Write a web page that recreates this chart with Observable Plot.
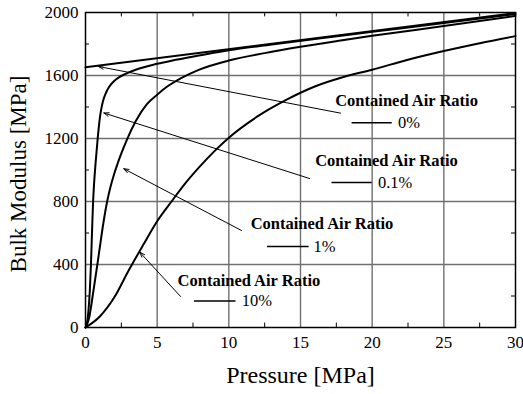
<!DOCTYPE html>
<html>
<head>
<meta charset="utf-8">
<script src="https://cdn.jsdelivr.net/npm/d3@7"></script>
<script src="https://cdn.jsdelivr.net/npm/@observablehq/plot@0.6"></script>
<style>
  html, body { margin: 0; padding: 0; background: white; }
  #chart svg, #chart svg text { font-family: 'Liberation Serif', 'Times New Roman', serif !important; }
</style>
</head>
<body>
<div id="chart"></div>
<script>
// ---- Data ----
const xTicks = [0, 5, 10, 15, 20, 25, 30];
const yTicks = [0, 400, 800, 1200, 1600, 2000];
const xMinor = [2.5, 7.5, 12.5, 17.5, 22.5, 27.5];
const yMinor = [200, 600, 1000, 1400, 1800];

// Contained air ratio 0%
const pressure0 = [0, 30];
const bulk0 = [1652, 1996];

// Contained air ratio 0.1%
const pressure01 = [0, 0.1, 0.2, 0.3, 0.38, 0.46, 0.53, 0.6, 0.7, 0.85, 1.0, 1.1, 1.2, 1.4, 1.6, 1.79, 2.0, 2.33, 2.79, 3.6, 5, 6, 8, 10, 13, 16, 20, 25, 30];
const bulk01 = [0, 25, 100, 230, 400, 620, 800, 915, 1040, 1200, 1330, 1388, 1430, 1484, 1520, 1545, 1565, 1588, 1610, 1640, 1674, 1694, 1728, 1760, 1797, 1832, 1877, 1933, 1990];

// Contained air ratio 1%
const pressure1 = [0, 0.25, 0.5, 0.86, 1.0, 1.25, 1.51, 1.75, 2.0, 2.2, 2.5, 2.9, 3.5, 4.3, 5.0, 5.7, 6.6, 7.9, 10, 12.5, 15, 17.8, 20, 25, 30];
const bulk1 = [0, 60, 200, 420, 510, 665, 800, 895, 975, 1030, 1105, 1195, 1310, 1420, 1478, 1530, 1580, 1636, 1695, 1742, 1782, 1822, 1852, 1914, 1978];

// Contained air ratio 10%
const pressure10 = [0, 1, 2, 3, 4, 5, 6, 7, 8, 9, 10, 12, 14, 16, 18, 20, 22.5, 25, 27.5, 30];
const bulk10 = [0, 70, 190, 360, 520, 675, 800, 920, 1025, 1120, 1205, 1340, 1445, 1530, 1590, 1637, 1700, 1755, 1805, 1850];

// Annotations
const ratios = ["0%", "0.1%", "1%", "10%"];
const annotationTitle = "Contained Air Ratio";
const titleP = [22.4, 21.0, 16.5, 11.4];
const titleK = [1443, 1062, 662, 300];
const keyP1 = [18.6, 17.2, 12.7, 7.6];
const keyP2 = [21.4, 20.0, 15.6, 10.5];
const keyK = [1300, 920, 515, 168];
const keyTextP = [21.8, 20.4, 15.9, 10.9];
const arrowFromP = [17.79, 15.63, 10.88, 6.63];
const arrowFromK = [1361, 946, 616, 197];
const arrowToP = [0.91, 1.28, 2.67, 3.79];
const arrowToK = [1657, 1362, 1008, 478];

const xTitle = "Pressure [MPa]";
const yTitle = "Bulk Modulus [MPa]";

// ---- Build tables ----
const toRows = (ps, ks) => ps.map((p, i) => ({p, k: ks[i]}));
const curves = [
  toRows(pressure0, bulk0),
  toRows(pressure01, bulk01),
  toRows(pressure1, bulk1),
  toRows(pressure10, bulk10)
];
const notes = ratios.map((r, i) => ({
  ratio: r,
  tp: titleP[i], tk: titleK[i],
  k1: keyP1[i], k2: keyP2[i], kk: keyK[i], kt: keyTextP[i],
  ax1: arrowFromP[i], ay1: arrowFromK[i], ax2: arrowToP[i], ay2: arrowToK[i]
}));

const serif = "'Liberation Serif', 'Times New Roman', serif";

const chart = Plot.plot({
  width: 523,
  height: 394,
  marginLeft: 85,
  marginRight: 8,
  marginTop: 12,
  marginBottom: 67,
  style: {fontFamily: serif, fontSize: "17px", background: "white", color: "black", overflow: "visible"},
  x: {domain: [0, 30], ticks: xTicks, tickSize: 0, tickPadding: 8, label: null, tickFormat: d3.format("d")},
  y: {domain: [0, 2000], ticks: yTicks, tickSize: 0, tickPadding: 7, label: null, tickFormat: d3.format("d")},
  marks: [
    // grid
    Plot.ruleX(xTicks.slice(1, -1), {stroke: "#707070", strokeWidth: 1.4}),
    Plot.ruleY(yTicks.slice(1, -1), {stroke: "#707070", strokeWidth: 1.4}),
    // inward minor ticks on all four sides
    Plot.ruleX(xMinor, {y1: 0, y2: 28, stroke: "black", strokeWidth: 1}),
    Plot.ruleX(xMinor, {y1: 1972, y2: 2000, stroke: "black", strokeWidth: 1}),
    Plot.ruleY(yMinor, {x1: 0, x2: 0.28, stroke: "black", strokeWidth: 1}),
    Plot.ruleY(yMinor, {x1: 29.72, x2: 30, stroke: "black", strokeWidth: 1}),
    // curves
    ...curves.map(c => Plot.line(c, {x: "p", y: "k", curve: "monotone-x", stroke: "black", strokeWidth: 2})),
    // annotation arrows
    Plot.arrow(notes, {x1: "ax1", y1: "ay1", x2: "ax2", y2: "ay2", stroke: "black", strokeWidth: 1, headLength: 8, headAngle: 40}),
    // annotation titles
    Plot.text(notes, {x: "tp", y: "tk", text: () => annotationTitle, fontFamily: serif, fontWeight: "bold", fontSize: 16.5, textAnchor: "middle", fill: "black"}),
    // key lines
    Plot.ruleY(notes, {y: "kk", x1: "k1", x2: "k2", stroke: "black", strokeWidth: 1.5}),
    Plot.text(notes, {x: "kt", y: "kk", text: "ratio", fontFamily: serif, fontSize: 16.5, textAnchor: "start", fill: "black"}),
    // axis titles
    Plot.text([xTitle], {frameAnchor: "bottom", text: d => d, fontFamily: serif, textAnchor: "middle", lineAnchor: "middle", dy: 48, fontSize: 24, fill: "black"}),
    Plot.text([yTitle], {frameAnchor: "left", text: d => d, fontFamily: serif, textAnchor: "middle", lineAnchor: "middle", rotate: -90, dx: -67, dy: 4, fontSize: 23, fill: "black"}),
    Plot.frame({stroke: "black", strokeWidth: 1.5})
  ]
});

document.getElementById("chart").appendChild(chart);
</script>
</body>
</html>
